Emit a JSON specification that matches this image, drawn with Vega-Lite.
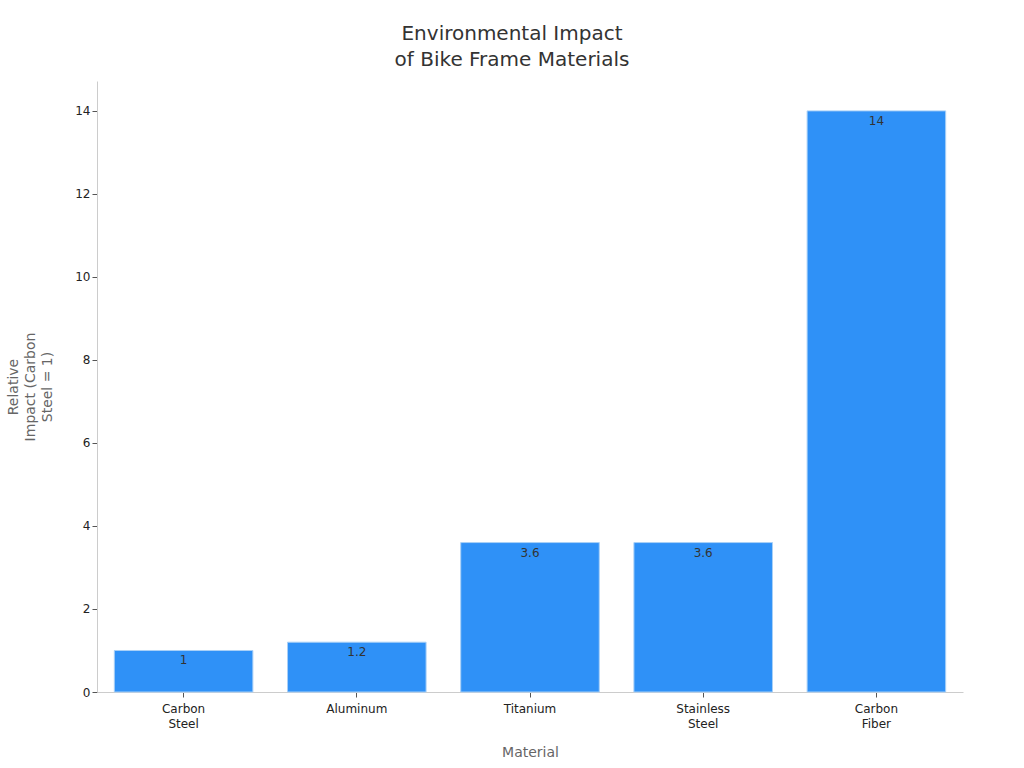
{
  "$schema": "https://vega.github.io/schema/vega-lite/v6.json",
  "width": 866,
  "height": 611,
  "autosize": "none",
  "padding": {"left": 97, "top": 81, "right": 61, "bottom": 76},
  "background": "white",
  "config": {"font": "DejaVu Sans", "view": {"stroke": null}},
  "title": {
    "text": ["Environmental Impact", "of Bike Frame Materials"],
    "fontSize": 20,
    "fontWeight": "normal",
    "color": "#333333",
    "lineHeight": 26,
    "anchor": "middle",
    "dx": -18,
    "offset": 11
  },
  "data": {
    "values": [
      {"material": "Carbon Steel", "impact": 1},
      {"material": "Aluminum", "impact": 1.2},
      {"material": "Titanium", "impact": 3.6},
      {"material": "Stainless Steel", "impact": 3.6},
      {"material": "Carbon Fiber", "impact": 14}
    ]
  },
  "encoding": {
    "x": {
      "field": "material",
      "type": "nominal",
      "sort": null,
      "scale": {"paddingInner": 0.2, "paddingOuter": 0.1},
      "axis": {
        "title": "Material",
        "titleFontSize": 14,
        "titleFontWeight": "normal",
        "titleColor": "#666666",
        "titlePadding": 16,
        "labelAngle": 0,
        "labelFontSize": 12,
        "labelColor": "#222222",
        "labelLineHeight": 15,
        "labelExpr": "split(datum.label, ' ')",
        "domainColor": "#cccccc",
        "tickColor": "#555555",
        "tickSize": 5,
        "labelPadding": 6
      }
    },
    "y": {
      "field": "impact",
      "type": "quantitative",
      "scale": {"domain": [0, 14.72], "nice": false},
      "axis": {
        "title": ["Relative", "Impact (Carbon", "Steel = 1)"],
        "titleFontSize": 14,
        "titleFontWeight": "normal",
        "titleColor": "#666666",
        "titleLineHeight": 17,
        "titlePadding": 20,
        "values": [0, 2, 4, 6, 8, 10, 12, 14],
        "grid": false,
        "labelFontSize": 12,
        "labelColor": "#222222",
        "domainColor": "#cccccc",
        "tickColor": "#555555",
        "tickSize": 5
      }
    }
  },
  "layer": [
    {
      "mark": {"type": "bar", "color": "#2f91f7", "stroke": "#a9d0f7", "strokeWidth": 1}
    },
    {
      "mark": {"type": "text", "baseline": "top", "dy": 5, "fontSize": 12, "color": "#333333"},
      "encoding": {"text": {"field": "impact", "type": "quantitative"}}
    }
  ]
}
